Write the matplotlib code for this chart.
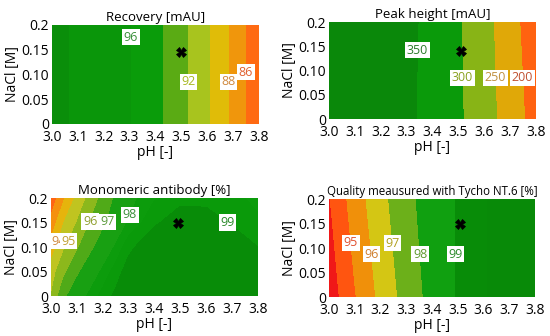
import matplotlib
matplotlib.use("Agg")
import matplotlib.pyplot as plt
import numpy as np

plt.rcParams['font.family'] = ['Open Sans', 'DejaVu Sans']

# axes grid shared by all panels
ph_ticks = [3.0, 3.1, 3.2, 3.3, 3.4, 3.5, 3.6, 3.7, 3.8]
ph_tick_labels = ['3.0', '3.1', '3.2', '3.3', '3.4', '3.5', '3.6', '3.7', '3.8']
nacl_ticks = [0, 0.05, 0.10, 0.15, 0.2]
nacl_tick_labels = ['0', '0.05', '0.10', '0.15', '0.2']

# --- Recovery [mAU] (no NaCl dependence) ---
rec_ph = [3.0, 3.1, 3.2, 3.3, 3.4, 3.5, 3.6, 3.7, 3.8]
rec_nacl = [0.0, 0.2]
rec_vals = [
    [98.53, 97.71, 96.90, 96.08, 94.56, 92.63, 90.35, 87.54, 84.46],
    [98.53, 97.71, 96.90, 96.08, 94.56, 92.63, 90.35, 87.54, 84.46],
]
rec_levels = [86, 88, 90, 92, 94, 96, 98]
rec_labeled = [96, 92, 88, 86]
rec_optimum = (3.50, 0.145)

# --- Peak height [mAU] ---
peak_ph = [3.0, 3.1, 3.2, 3.3, 3.4, 3.5, 3.6, 3.7, 3.8]
peak_nacl = [0.0, 0.2]
peak_vals = [
    [392, 386, 376, 360, 333, 307, 271, 228, 179],
    [390, 384, 375, 363, 334, 305, 267, 220, 168],
]
peak_levels = [200, 250, 300, 350]
peak_labeled = [350, 300, 250, 200]
peak_optimum = (3.51, 0.14)

# --- Monomeric antibody [%] ---
mono_ph = [3.0, 3.05, 3.1, 3.15, 3.2, 3.25, 3.3, 3.4, 3.5, 3.6, 3.7, 3.8]
mono_nacl = [0.0, 0.05, 0.10, 0.15, 0.2]
mono_vals = [
    [95.0, 96.8, 97.55, 98.15, 98.7, 99.12, 99.4, 99.7, 99.85, 99.8, 99.65, 99.45],
    [94.5, 95.75, 96.8, 97.5, 98.12, 98.75, 99.25, 99.6, 99.75, 99.7, 99.55, 99.3],
    [93.4, 94.86, 95.82, 96.73, 97.44, 98.08, 98.85, 99.45, 99.6, 99.55, 99.35, 99.0],
    [92.33, 94.0, 95.0, 96.0, 96.79, 97.45, 98.06, 98.91, 99.3, 99.25, 98.95, 98.6],
    [91.26, 92.87, 94.24, 95.3, 96.28, 97.13, 97.75, 98.45, 98.85, 98.85, 98.65, 98.35],
]
mono_levels = [92, 93, 94, 95, 96, 97, 98, 98.5, 99]
mono_labeled = [94, 95, 96, 97, 98, 99]
mono_optimum = (3.49, 0.15)

# --- Quality measured with Tycho NT.6 [%] ---
tycho_ph = [3.0, 3.1, 3.2, 3.3, 3.4, 3.5, 3.6, 3.7, 3.8]
tycho_nacl = [0.0, 0.2]
tycho_vals = [
    [93.38, 94.92, 96.24, 97.37, 98.32, 99.05, 99.48, 99.62, 99.72],
    [93.92, 95.47, 96.67, 97.70, 98.47, 99.05, 99.48, 99.62, 99.72],
]
tycho_levels = [94, 95, 96, 97, 98, 99, 99.5]
tycho_labeled = [95, 96, 97, 98, 99]
tycho_optimum = (3.51, 0.148)

panels = [
    dict(title='Recovery [mAU]', title_size=9.5, x=rec_ph, y=rec_nacl, z=rec_vals,
         levels=rec_levels, labeled=rec_labeled, opt=rec_optimum,
         rect=[0.0945, 0.631, 0.376, 0.2946],
         colors=['#ff6a12', '#f0960c', '#e0bc08', '#a8c41e', '#5aab14',
                 '#0a9c0a', '#0a960a', '#0a8e0a'],
         label_pos=[(3.33, 0.175), (3.54, 0.085), (3.69, 0.085), (3.75, 0.105)],
         label_col=['#3a8f3a', '#a8b820', '#d08a40', '#e06030']),
    dict(title='Peak height [mAU]', title_size=9.5, x=peak_ph, y=peak_nacl, z=peak_vals,
         levels=peak_levels, labeled=peak_labeled, opt=peak_optimum,
         rect=[0.598, 0.6458, 0.376, 0.2887],
         colors=['#ff6210', '#e0a808', '#88b416', '#0a9a0a', '#0a880a'],
         label_pos=[(3.35, 0.142), (3.52, 0.085), (3.65, 0.085), (3.76, 0.085)],
         label_col=['#2a7a2a', '#8aa020', '#c09040', '#c05030']),
    dict(title='Monomeric antibody [%]', title_size=9.5, x=mono_ph, y=mono_nacl, z=mono_vals,
         levels=mono_levels, labeled=mono_labeled, opt=mono_optimum,
         rect=[0.0927, 0.119, 0.376, 0.2917],
         colors=['#ff6414', '#f5900e', '#e6b40c', '#c0c420', '#8cb81c',
                 '#50aa18', '#18a012', '#0c9c0c', '#0a9a0a', '#088c08'],
         label_pos=[(3.02, 0.113), (3.075, 0.11), (3.152, 0.152),
                    (3.215, 0.152), (3.31, 0.165), (3.68, 0.148)],
         label_col=['#d08a40', '#c0a030', '#90a030', '#5a9a3a', '#3a8f3a', '#2a8a2a']),
    dict(title='Quality meausured with Tycho NT.6 [%]', title_size=8.3, x=tycho_ph,
         y=tycho_nacl, z=tycho_vals, levels=tycho_levels, labeled=tycho_labeled,
         opt=tycho_optimum,
         rect=[0.598, 0.116, 0.3745, 0.2917],
         colors=['#f01818', '#ff5510', '#f0900a', '#d4c614', '#6cb01a',
                 '#10a010', '#088c08', '#088a08'],
         label_pos=[(3.08, 0.11), (3.16, 0.087), (3.245, 0.11), (3.35, 0.087), (3.48, 0.087)],
         label_col=['#e05030', '#d08030', '#b0a020', '#609a30', '#2a8a2a']),
]

fig = plt.figure(figsize=(5.5, 3.36), dpi=100)

for p in panels:
    ax = fig.add_axes(p['rect'])
    z = np.array(p['z'])
    lv = [-1e9] + p['levels'] + [1e9]
    ax.contourf(p['x'], p['y'], z, levels=lv, colors=p['colors'])
    cs = ax.contour(p['x'], p['y'], z, levels=sorted(p['labeled']), colors='none')
    texts = ax.clabel(cs, inline=False, fmt='%g', manual=p['label_pos'], fontsize=9)
    # texts come back in the order of the manual positions
    for t, c in zip(texts, p['label_col']):
        t.set_rotation(0)
        t.set_color(c)
        t.set_bbox(dict(facecolor='white', edgecolor='none', pad=1.2))
    ax.plot(p['opt'][0], p['opt'][1], marker='X', color='black',
            markersize=7, markeredgewidth=0.5)
    ax.set_xlim(3.0, 3.8)
    ax.set_ylim(0, 0.2)
    ax.set_xticks(ph_ticks)
    ax.set_xticklabels(ph_tick_labels)
    ax.set_yticks(nacl_ticks)
    ax.set_yticklabels(nacl_tick_labels)
    ax.tick_params(axis='x', length=0, pad=4, labelsize=10)
    ax.tick_params(axis='y', length=0, pad=2, labelsize=10)
    for s in ax.spines.values():
        s.set_visible(False)
    ax.set_title(p['title'], fontsize=p['title_size'], pad=3)
    ax.set_xlabel('pH [-]', fontsize=10, labelpad=0)
    ax.set_ylabel('NaCl [M]', fontsize=10, labelpad=1)

fig.savefig('out.png', dpi=100)
